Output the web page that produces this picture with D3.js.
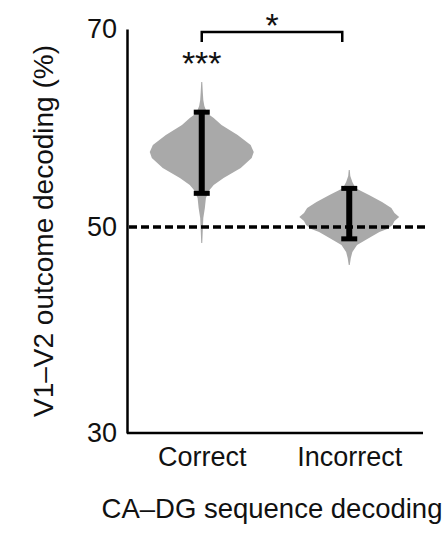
<!DOCTYPE html>
<html>
<head>
<meta charset="utf-8">
<script src="https://cdn.jsdelivr.net/npm/d3@7"></script>
<style>
  html, body { margin: 0; padding: 0; background: #fff; }
  svg { display: block; }
  text { font-family: "Liberation Sans", Arial, sans-serif; fill: #111; }
</style>
</head>
<body>
<svg id="chart" width="447" height="540"></svg>
<script>
// Categories (CA–DG sequence decoding outcome)
const categories = ["Correct", "Incorrect"];

// Shuffled/bootstrapped distribution profiles: [decoding %, relative density]
const correctDist = [
  [64.65, 1], [63.64, 2], [62.83, 3], [62.22, 5], [61.82, 8], [61.31, 15],
  [61.01, 23], [60.30, 38], [59.29, 69], [58.28, 94], [57.58, 100],
  [56.97, 96], [55.96, 75], [54.95, 42], [54.24, 23], [53.74, 15],
  [52.93, 8], [51.92, 6], [50.91, 3], [49.71, 2], [48.45, 1]
];
const incorrectDist = [
  [55.76, 1], [55.15, 2], [54.55, 6], [53.94, 12], [53.74, 19], [53.23, 38],
  [52.53, 63], [51.92, 81], [51.41, 87], [51.01, 96], [50.61, 87],
  [50.20, 83], [49.81, 73], [49.51, 58], [48.93, 38], [48.25, 15],
  [47.57, 6], [46.99, 3], [46.31, 1]
];

// Error bar ranges [low, high]
const errLow = [53.4, 48.85];
const errHigh = [61.6, 53.9];

// Axis ticks and reference level
const yTicks = [30, 50, 70];
const chanceLevel = 50;
const sigLabels = ["***", ""];
const pairLabel = "*";

const svg = d3.select("#chart");

const y = d3.scaleLinear().domain([30, 50, 70]).range([433, 227, 29]);
const x = d3.scalePoint().domain(categories).range([128, 423]).padding(0.5);
const w = d3.scaleLinear().domain([0, 100]).range([0, 52]);

// Violins
const dists = [correctDist, incorrectDist];
const area = d3.area()
  .y(d => y(d[0]))
  .curve(d3.curveLinear);

dists.forEach((dist, i) => {
  const cx = x(categories[i]);
  svg.append("path")
    .datum(dist)
    .attr("d", area.x0(d => cx - w(d[1])).x1(d => cx + w(d[1])))
    .attr("fill", "#a9a9a9");
});

// Chance line
svg.append("line")
  .attr("x1", 129).attr("x2", 425)
  .attr("y1", y(chanceLevel)).attr("y2", y(chanceLevel))
  .attr("stroke", "#000").attr("stroke-width", 3.5)
  .attr("stroke-dasharray", "8,4");

// Error bars
categories.forEach((c, i) => {
  const cx = x(c);
  const g = svg.append("g").attr("stroke", "#000");
  g.append("line")
    .attr("x1", cx).attr("x2", cx)
    .attr("y1", y(errLow[i])).attr("y2", y(errHigh[i]))
    .attr("stroke-width", 6);
  [errLow[i], errHigh[i]].forEach(v => {
    g.append("line")
      .attr("x1", cx - 8).attr("x2", cx + 8)
      .attr("y1", y(v)).attr("y2", y(v))
      .attr("stroke-width", 5);
  });
});

// Axes
const yAxis = d3.axisLeft(y).tickValues(yTicks).tickSize(0).tickPadding(10);
const gy = svg.append("g").attr("transform", "translate(127,0)").call(yAxis);
gy.select(".domain").attr("stroke", "#000").attr("stroke-width", 2.5);
gy.selectAll(".tick text")
  .attr("font-size", 27)
  .attr("font-family", "Liberation Sans, Arial, sans-serif")
  .attr("fill", "#111");

const xAxis = d3.axisBottom(x).tickSize(0).tickPadding(14);
const gx = svg.append("g").attr("transform", "translate(0,433)").call(xAxis);
gx.select(".domain").attr("stroke", "#000").attr("stroke-width", 2.5)
  .attr("d", "M127,0H423");
gx.selectAll(".tick text")
  .attr("font-size", 27)
  .attr("font-family", "Liberation Sans, Arial, sans-serif")
  .attr("fill", "#111");

// Axis titles
svg.append("text")
  .attr("transform", "translate(53,231) rotate(-90)")
  .attr("text-anchor", "middle")
  .attr("font-size", 28)
  .text("V1–V2 outcome decoding (%)");

svg.append("text")
  .attr("x", 272).attr("y", 518)
  .attr("text-anchor", "middle")
  .attr("font-size", 27.5)
  .text("CA–DG sequence decoding");

// Significance markers
categories.forEach((c, i) => {
  if (sigLabels[i]) {
    svg.append("text")
      .attr("x", x(c)).attr("y", 75)
      .attr("text-anchor", "middle")
      .attr("font-size", 34)
      .text(sigLabels[i]);
  }
});

const bx0 = x(categories[0]), bx1 = x(categories[1]) - 7;
svg.append("path")
  .attr("d", `M${bx0},42V32H${bx1}V42`)
  .attr("fill", "none").attr("stroke", "#000").attr("stroke-width", 2.5);
svg.append("text")
  .attr("x", (bx0 + bx1) / 2).attr("y", 37)
  .attr("text-anchor", "middle")
  .attr("font-size", 34)
  .text(pairLabel);
</script>
</body>
</html>
